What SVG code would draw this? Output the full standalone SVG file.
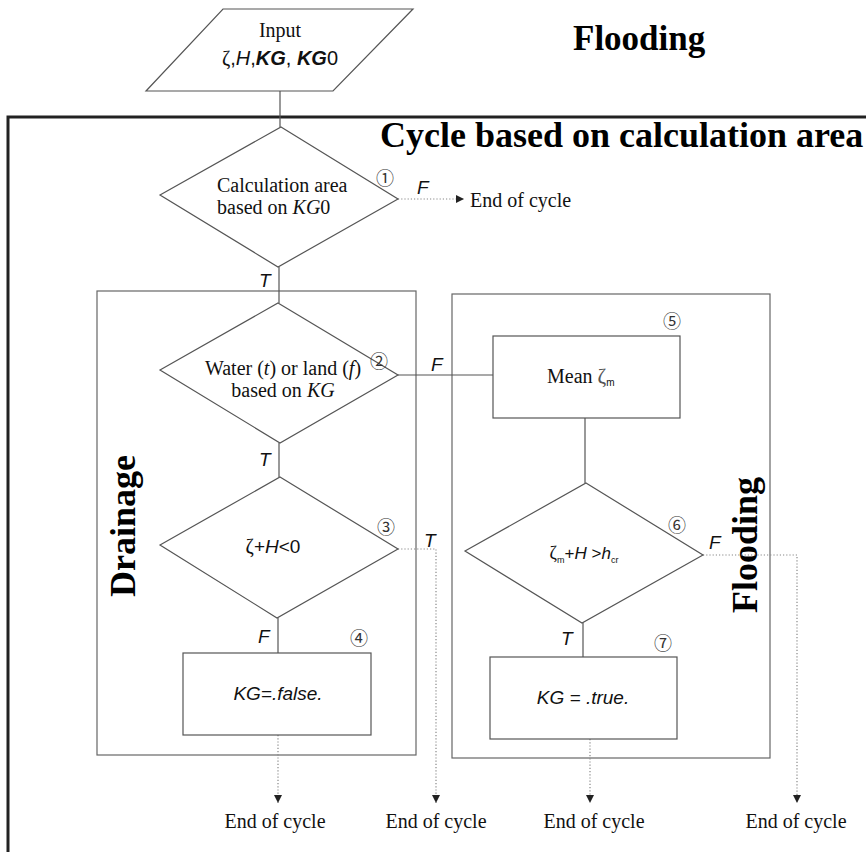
<svg xmlns="http://www.w3.org/2000/svg" width="866" height="852" viewBox="0 0 866 852">
<defs>
<style>
.ln{fill:none;stroke:#555;stroke-width:1.2}
.bx{fill:#fff;stroke:#555;stroke-width:1.2}
.grp{fill:none;stroke:#666;stroke-width:1.2}
.dot{fill:none;stroke:#888;stroke-width:1.2;stroke-dasharray:1.2 2}
.sr{font-family:"Liberation Serif","Times New Roman",serif;font-size:20px;fill:#111}
.sn{font-family:"Liberation Sans",Arial,sans-serif;fill:#111}
.it{font-style:italic}
.bd{font-weight:bold}
.ttl{font-family:"Liberation Serif","Times New Roman",serif;font-weight:bold;font-size:36px;fill:#000}
.num{font-family:"Noto Sans CJK JP","DejaVu Sans",sans-serif;font-size:18px;fill:#333}
.lab{font-family:"Liberation Sans",Arial,sans-serif;font-style:italic;font-size:19px;fill:#111}
</style>
<marker id="ah" viewBox="0 0 10 10" refX="10" refY="5" markerWidth="8" markerHeight="8" orient="auto" markerUnits="userSpaceOnUse">
<path d="M0,0 L10,5 L0,10 z" fill="#222"/>
</marker>
</defs>
<rect width="866" height="852" fill="#fff"/>

<!-- outer frame -->
<path d="M8,852 V117 H866" fill="none" stroke="#222" stroke-width="3"/>
<text class="ttl" x="573" y="50" style="font-size:35px">Flooding</text>
<text class="ttl" x="380" y="147">Cycle based on calculation area</text>

<!-- group boxes -->
<g id="drainage-group">
<rect class="grp" x="97" y="291" width="319" height="464"/>
<text class="ttl" transform="translate(135,526) rotate(-90)" text-anchor="middle">Drainage</text>
</g>
<g id="flooding-group">
<rect class="grp" x="452" y="294" width="318" height="464"/>
<text class="ttl" transform="translate(757,545) rotate(-90)" text-anchor="middle">Flooding</text>
</g>

<!-- connectors -->
<g id="connectors">
<line class="ln" x1="280" y1="91" x2="280" y2="127"/>
<line class="ln" x1="279" y1="267" x2="279" y2="303"/>
<line class="ln" x1="279" y1="443" x2="279" y2="477"/>
<line class="ln" x1="278" y1="618" x2="278" y2="653"/>
<line class="ln" x1="398" y1="375" x2="493" y2="375"/>
<line class="ln" x1="585" y1="418" x2="585" y2="483"/>
<line class="ln" x1="583" y1="623" x2="583" y2="657"/>
<path class="dot" d="M398,199 H464" marker-end="url(#ah)"/>
<path class="dot" d="M398,549 H436 V803" marker-end="url(#ah)"/>
<path class="dot" d="M703,555 H797 V803" marker-end="url(#ah)"/>
<path class="dot" d="M278,735 V803" marker-end="url(#ah)"/>
<path class="dot" d="M590,739 V803" marker-end="url(#ah)"/>
<text class="lab" x="417" y="194">F</text>
<text class="lab" x="259" y="287">T</text>
<text class="lab" x="431" y="371">F</text>
<text class="lab" x="259" y="466">T</text>
<text class="lab" x="424" y="547">T</text>
<text class="lab" x="258" y="643">F</text>
<text class="lab" x="709" y="549">F</text>
<text class="lab" x="561" y="645">T</text>
</g>

<!-- input -->
<g id="input">
<polygon class="bx" points="223,9 413,9 333,91 146,91"/>
<text class="sr" x="280" y="37" text-anchor="middle">Input</text>
<text x="280" y="65" text-anchor="middle" class="sn" style="font-size:20px"><tspan class="sr">ζ</tspan>,<tspan class="it">H</tspan>,<tspan class="it bd">KG</tspan>, <tspan class="it bd">KG</tspan>0</text>
</g>

<g id="n1">
<polygon class="bx" points="281,127 398,199 278,267 160,195"/>
<text class="sr" x="217" y="192">Calculation area</text>
<text class="sr" x="217" y="214">based on <tspan class="it">KG</tspan>0</text>
<text class="num" x="385" y="185" text-anchor="middle">①</text>
</g>
<text class="sr" x="470" y="207">End of cycle</text>

<g id="n2">
<polygon class="bx" points="278,303 398,375 280,443 160,370"/>
<text class="sr" x="283" y="375" text-anchor="middle">Water (<tspan class="it">t</tspan>) or land (<tspan class="it">f</tspan>)</text>
<text class="sr" x="283" y="397" text-anchor="middle">based on <tspan class="it">KG</tspan></text>
<text class="num" x="379" y="368" text-anchor="middle">②</text>
</g>

<g id="n3">
<polygon class="bx" points="280,477 398,549 277,618 160,545"/>
<text x="273" y="553" text-anchor="middle" class="sn" style="font-size:19px"><tspan class="sr">ζ</tspan>+<tspan class="it">H</tspan>&lt;0</text>
<text class="num" x="386" y="534" text-anchor="middle">③</text>
</g>

<g id="n4">
<rect class="bx" x="183" y="653" width="188" height="82"/>
<text x="278" y="700" text-anchor="middle" class="sn it" style="font-size:19px">KG=.false.</text>
<text class="num" x="359" y="645" text-anchor="middle">④</text>
</g>

<g id="n5">
<rect class="bx" x="493" y="336" width="187" height="82"/>
<text x="547" y="383" class="sr">Mean  <tspan fill="#555" style="font-size:21px">ζ</tspan><tspan class="sn" style="font-size:10px" fill="#555" dy="3">m</tspan></text>
<text class="num" x="672" y="328" text-anchor="middle">⑤</text>
</g>

<g id="n6">
<polygon class="bx" points="586,483 703,555 582,623 465,551"/>
<text x="584" y="559" text-anchor="middle" class="sn" style="font-size:17px" fill="#333"><tspan class="sr" style="font-size:18px" fill="#333">ζ</tspan><tspan style="font-size:9px" dy="4">m</tspan><tspan dy="-4">+</tspan><tspan class="it">H</tspan> &gt;<tspan class="it">h</tspan><tspan style="font-size:9px" dy="4">cr</tspan></text>
<text class="num" x="677" y="532" text-anchor="middle">⑥</text>
</g>

<g id="n7">
<rect class="bx" x="490" y="657" width="187" height="82"/>
<text x="583" y="704" text-anchor="middle" class="sn it" style="font-size:19px">KG = .true.</text>
<text class="num" x="663" y="650" text-anchor="middle">⑦</text>
</g>

<g id="ends">
<text class="sr" x="275" y="828" text-anchor="middle">End of cycle</text>
<text class="sr" x="436" y="828" text-anchor="middle">End of cycle</text>
<text class="sr" x="594" y="828" text-anchor="middle">End of cycle</text>
<text class="sr" x="796" y="828" text-anchor="middle">End of cycle</text>
</g>
</svg>
